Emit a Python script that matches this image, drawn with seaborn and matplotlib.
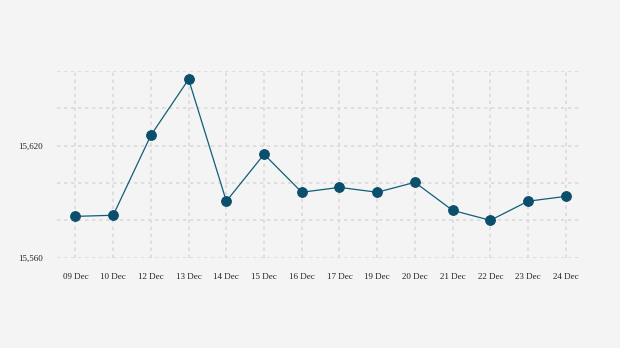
import matplotlib
matplotlib.use("Agg")
import matplotlib.pyplot as plt
import seaborn as sns
import pandas as pd
from matplotlib.ticker import FixedLocator, FuncFormatter

dates = ["09 Dec", "10 Dec", "12 Dec", "13 Dec", "14 Dec", "15 Dec", "16 Dec",
         "17 Dec", "19 Dec", "20 Dec", "21 Dec", "22 Dec", "23 Dec", "24 Dec"]
values = [15582.1, 15582.7, 15625.5, 15655.4, 15590.2, 15615.3, 15595.0,
          15597.6, 15595.0, 15600.3, 15585.3, 15580.0, 15590.2, 15592.8]
y_labels = [15560, 15620]
y_grid = [15580, 15600, 15640, 15660]

df = pd.DataFrame({"date": dates, "value": values})
df["x"] = range(len(df))

sns.set_style("white")
plt.rcParams["font.family"] = ["Liberation Serif", "DejaVu Serif"]

bg = "#f4f4f4"
fig = plt.figure(figsize=(6.2, 3.48), dpi=100, facecolor=bg)
ax = fig.add_axes([57/620, 1 - 257.7/348, (582 - 57)/620, (257.7 - 70.7)/348])
ax.set_facecolor(bg)

sns.lineplot(data=df, x="x", y="value", ax=ax, color="#0f5f78", linewidth=0.9,
             marker="o", markersize=7, markerfacecolor="#0b4f6c",
             markeredgecolor="#0b4f6c", zorder=3)

ax.set_xlim(-0.49, 13.43)
ax.set_ylim(15560, 15660)
ax.set_xticks(df["x"])
ax.set_xticklabels(dates)
ax.yaxis.set_major_locator(FixedLocator(y_labels))
ax.yaxis.set_minor_locator(FixedLocator(y_grid))
ax.yaxis.set_major_formatter(FuncFormatter(lambda v, p: f"{int(v):,}"))

grid_kw = dict(color="#dadada", linestyle=(0, (2, 2.2)), linewidth=1.2)
ax.grid(True, which="major", axis="both", **grid_kw)
ax.grid(True, which="minor", axis="y", **grid_kw)
ax.set_axisbelow(True)

for s in ax.spines.values():
    s.set_visible(False)

ax.tick_params(axis="x", which="major", length=5, width=1.2, color="#dadada",
               labelsize=6.5, labelcolor="#222222", pad=6)
ax.tick_params(axis="y", which="both", length=0, labelsize=6.5,
               labelcolor="#222222", pad=10)
ax.set_xlabel("")
ax.set_ylabel("")

fig.savefig("out.png", dpi=100, facecolor=bg)
